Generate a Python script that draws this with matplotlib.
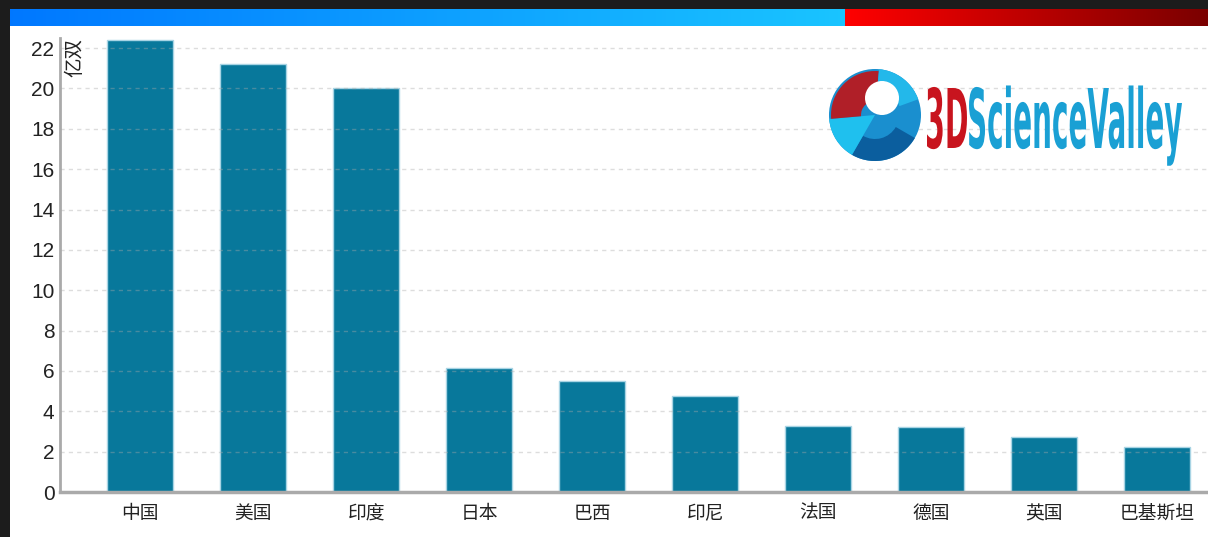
import numpy as np
import matplotlib
matplotlib.use("Agg")
import matplotlib.pyplot as plt
from matplotlib.patches import Rectangle, Circle, Wedge, PathPatch
from matplotlib.textpath import TextPath
from matplotlib.font_manager import FontProperties
from matplotlib.transforms import Affine2D

# --- data ---
countries = ["中国", "美国", "印度", "日本", "巴西", "印尼", "法国", "德国", "英国", "巴基斯坦"]
pairs = [22.4, 21.2, 20.0, 6.15, 5.5, 4.75, 3.25, 3.2, 2.75, 2.25]  # 亿双
yticks = list(range(0, 24, 2))
unit = "亿双"

W, H = 1208, 537
fig = plt.figure(figsize=(W / 100, H / 100), dpi=100)
fig.patch.set_facecolor("#1c1c1c")

# --- background: white panel + gradient header strip ---
bg = fig.add_axes([0, 0, 1, 1], zorder=0)
bg.add_patch(Rectangle((10, 26), W - 10, H - 26, color="white", lw=0))
g = np.linspace(0, 1, 256)[None, :]
blue = np.stack([0.0 + 0.1 * g, 0.47 + 0.30 * g, 1.0 + 0 * g], axis=-1)
red = np.stack([1.0 - 0.52 * g, 0 * g, 0 * g], axis=-1)
bg.imshow(blue, extent=(10, 845, 26, 9), aspect="auto")
bg.imshow(red, extent=(845, W, 26, 9), aspect="auto")
bg.set_xlim(0, W)
bg.set_ylim(H, 0)
bg.axis("off")

# --- main chart ---
ax = fig.add_axes([60 / W, 45 / H, 1 - 60 / W, (492 - 38) / H], zorder=1)
ax.set_facecolor("none")
x = np.arange(len(countries))
ax.bar(x, pairs, width=0.585, color="#08789b", edgecolor="#a8d4e4", linewidth=1, zorder=2)
ax.set_xlim(-0.71, len(countries) - 1 + 0.45)
ax.set_ylim(0, 22.5)
ax.set_yticks(yticks)
ax.set_xticks(x)
ax.set_xticklabels(countries, fontfamily=["Noto Sans CJK SC", "DejaVu Sans"], fontsize=13.5)
for t in ax.get_yticklabels():
    t.set_fontfamily("Liberation Sans")
    t.set_fontsize(15)
ax.tick_params(axis="y", length=0, pad=4, colors="#222222")
ax.tick_params(axis="x", length=0, pad=8, colors="#222222")
ax.grid(axis="y", color="#aaaaaa", alpha=0.4, linestyle=(0, (3, 3)), linewidth=1, zorder=3)
ax.set_axisbelow(False)
for s in ["top", "right"]:
    ax.spines[s].set_visible(False)
ax.spines["left"].set_color("#aaaaaa")
ax.spines["left"].set_linewidth(2)
ax.spines["bottom"].set_color("#aaaaaa")
ax.spines["bottom"].set_linewidth(2.5)
ax.text(0.004, 1.0, unit, transform=ax.transAxes, rotation=90, ha="left", va="top",
        fontsize=14, fontfamily=["Noto Sans CJK SC", "DejaVu Sans"], color="#222222")

# --- logo ---
lg = fig.add_axes([0, 0, 1, 1], zorder=5)
lg.set_xlim(0, W)
lg.set_ylim(H, 0)
lg.axis("off")
cx, cy, r = 875, 115, 46
lg.add_patch(Circle((cx, cy), r, color="#1a8fcf", lw=0))
lg.add_patch(Wedge((cx, cy), r, 30, 120, width=22, color="#0b5e9e", lw=0))
lg.add_patch(Wedge((cx, cy), r, 120, 175, color="#1fc0ee", lw=0))
lg.add_patch(Wedge((cx, cy), r - 2, 175, 275, width=30, color="#b01f28", lw=0))
lg.add_patch(Wedge((cx, cy), r, 275, 340, width=20, color="#23b8ea", lw=0))
lg.add_patch(Circle((882, 98), 17, color="white", lw=0))


def stretched_text(s, x0, x1, ytop, ybot, color):
    fp = FontProperties(family="DejaVu Sans", weight="bold")
    tp = TextPath((0, 0), s, size=10, prop=fp)
    cap = TextPath((0, 0), "H", size=10, prop=fp).get_extents()
    ext = tp.get_extents()
    sx = (x1 - x0) / ext.width
    sy = (ybot - ytop) / cap.height
    tr = Affine2D().translate(-ext.x0, 0).scale(sx, -sy).translate(x0, ybot)
    lg.add_patch(PathPatch(tr.transform_path(tp), color=color, lw=0))


stretched_text("3D", 927, 967, 88, 148, "#c8141e")
stretched_text("ScienceValley", 969, 1182, 88, 148, "#1aa0d4")

fig.savefig("out.png", dpi=100, facecolor=fig.get_facecolor())
plt.close(fig)
